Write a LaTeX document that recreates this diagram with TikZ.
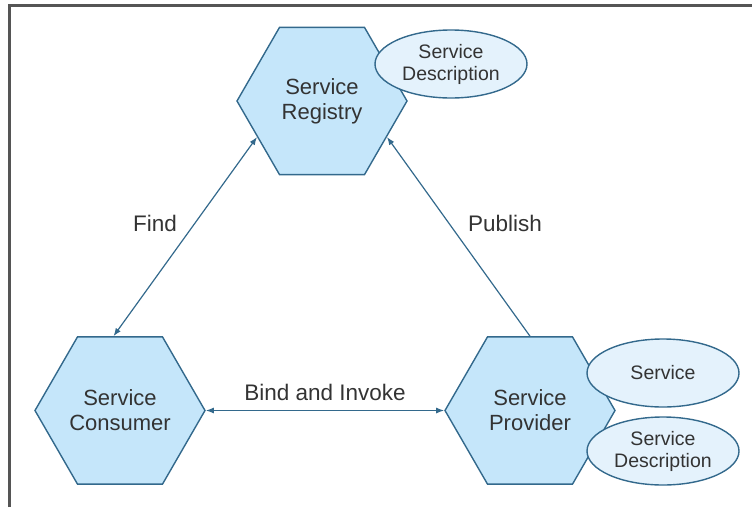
\documentclass[tikz,border=0pt]{standalone}
\usepackage{fontspec}
\setmainfont{Liberation Sans}
\usetikzlibrary{shapes.geometric,arrows.meta}
\definecolor{hexfill}{HTML}{C5E6FA}
\definecolor{edgeblue}{HTML}{33698C}
\definecolor{ellfill}{HTML}{E4F2FC}
\definecolor{txt}{HTML}{333333}
\definecolor{frame}{HTML}{555555}
\tikzset{
  hexbox/.style={regular polygon, regular polygon sides=6,
    minimum size=170pt, inner sep=0pt, draw=edgeblue, line width=1.4pt, fill=hexfill,
    text=txt, align=center, font=\fontsize{22}{25}\selectfont},
  ellbox/.style={ellipse, minimum width=152pt, minimum height=68pt, inner sep=0pt,
    draw=edgeblue, line width=1.4pt, fill=ellfill, text=txt, align=center,
    font=\fontsize{19.5}{22}\selectfont},
  lbl/.style={text=txt, font=\fontsize{22.5}{25}\selectfont, inner sep=0pt},
  conn/.style={draw=edgeblue, line width=1.2pt},
  tip/.style={-{Latex[length=8pt,width=6pt]}},
  tips/.style={{Latex[length=8pt,width=6pt]}-{Latex[length=8pt,width=6pt]}},
}
\begin{document}
\begin{tikzpicture}[x=1pt,y=-1pt]
\useasboundingbox (0,0) rectangle (752,507);
\draw[frame, line width=3pt] (9.5,507) -- (9.5,5.5) -- (752,5.5);
\node[hexbox] (reg) at (322,101) {Service\\Registry};
\node[hexbox] (con) at (120,410.5) {Service\\Consumer};
\node[hexbox] (prov) at (530,410.5) {Service\\Provider};
\node[ellbox] (regdesc) at (451,64) {Service\\Description};
\node[ellbox] (svc) at (663,373) {Service};
\node[ellbox] (provdesc) at (663,451) {Service\\Description};
\draw[conn, tips] (reg.209) -- (con.95);
\draw[conn, tip] (prov.90) -- (reg.331);
\draw[conn, tips] (con.east) -- (prov.west);
\node[lbl] (find) at (155,223) {Find};
\node[lbl] (publish) at (505,223) {Publish};
\node[lbl] (bind) at (325,392) {Bind and Invoke};
\end{tikzpicture}
\end{document}
